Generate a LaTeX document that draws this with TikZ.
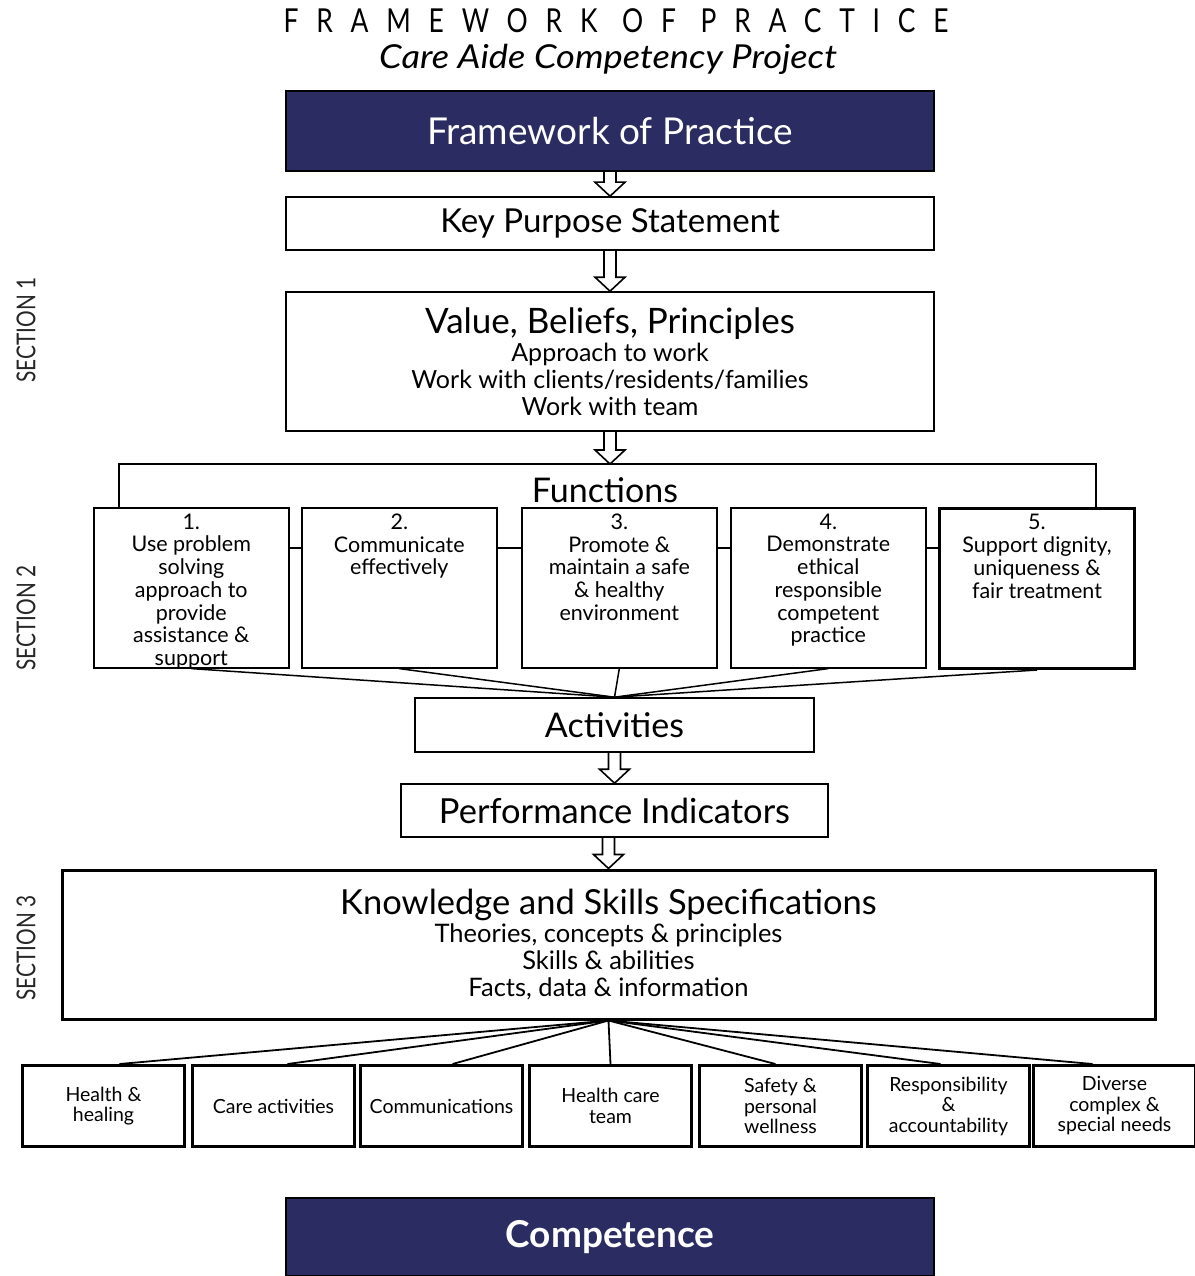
\documentclass[tikz,border=0pt]{standalone}
\usepackage{fontspec}
\setmainfont{Lato}
\newfontfamily\narrowfont[FakeStretch=0.8]{Lato}
\newfontfamily\widefont[FakeStretch=1.1]{Lato}
\definecolor{navy}{RGB}{43,45,98}
\newcommand{\fntext}[1]{\parbox[t][148pt][t]{190pt}{\centering #1}}
% hollow block arrow from the bottom of #1 down to the point #2
\newcommand{\flowarrow}[2]{%
  \draw[line width=1.6pt, line join=miter]
    ([xshift=-6pt]#2 |- #1.south) -- ([xshift=-6pt, yshift=14pt]#2) -- ([xshift=-15pt, yshift=14pt]#2)
    -- (#2) -- ([xshift=15pt, yshift=14pt]#2) -- ([xshift=6pt, yshift=14pt]#2) -- ([xshift=6pt]#2 |- #1.south);}
\tikzset{
  box/.style={draw, line width=1.6pt, inner sep=0pt, align=center},
  fnbox/.style={box, anchor=north west, minimum width=195pt, minimum height=160pt,
    font=\fontsize{21.5}{22.7}\selectfont},
  kbox/.style={box, line width=3pt, anchor=north west, minimum width=162pt,
    minimum height=81pt, font=\fontsize{19.5}{20.5}\selectfont},
  navybox/.style={box, fill=navy, text=white, minimum width=648pt, minimum height=80pt},
  seclabel/.style={rotate=90, font=\narrowfont\fontsize{26}{26}\selectfont, text=black!85}
}
\begin{document}
\begin{tikzpicture}[x=1pt, y=-1pt]
  \useasboundingbox (0,0) rectangle (1194,1276);
  % heading
  \node [inner sep=0pt] (title) at (616,21) {\narrowfont\fontsize{33}{33}\selectfont\addfontfeatures{LetterSpace=54}FRAMEWORK OF PRACTICE};
  \node [inner sep=0pt] (sub) at (608,59) {\widefont\itshape\fontsize{33}{33}\selectfont Care Aide Competency Project};
  \node (sec1) [seclabel] at (26,330) {SECTION 1};
  \node (sec2) [seclabel] at (26,618) {SECTION 2};
  \node (sec3) [seclabel] at (26,948) {SECTION 3};
  % section 1
  \node [navybox, font=\fontsize{37}{37}\selectfont] (fop) at (610,131) {Framework of Practice};
  \node [box, minimum width=648pt, minimum height=53pt, font=\fontsize{33}{33}\selectfont] (kps) at (610,223.5) {Key Purpose Statement};
  \node [box, minimum width=648pt, minimum height=139pt, font=\fontsize{25}{27}\selectfont] (vbp) at (610,361.5)
    {{\fontsize{35}{35}\selectfont Value, Beliefs, Principles}\\[1pt] Approach to work\\ Work with clients/residents/families\\ Work with team};
  \coordinate (bar) at (610,464);
  % section 2
  \node (func) at (605,490) {\fontsize{34}{34}\selectfont Functions};
  \node [fnbox] (fn1) at (93,507) {\fntext{1.\\Use problem\\solving\\approach to\\provide\\assistance \&\\support}};
  \node [fnbox] (fn2) at (301,507) {\fntext{2.\\Communicate\\effectively}};
  \node [fnbox] (fn3) at (521,507) {\fntext{3.\\Promote \&\\maintain a safe\\\& healthy\\environment}};
  \node [fnbox] (fn4) at (730,507) {\fntext{4.\\Demonstrate\\ethical\\responsible\\competent\\practice}};
  \node [fnbox, line width=3pt] (fn5) at (938,507) {\fntext{5.\\Support dignity,\\uniqueness \&\\fair treatment}};
  \node [box, minimum width=399pt, minimum height=54pt, font=\fontsize{34}{34}\selectfont] (act) at (614.5,725) {Activities};
  \node [box, minimum width=427pt, minimum height=53pt, font=\fontsize{34.5}{34.5}\selectfont] (pi) at (614.5,810.5) {Performance Indicators};
  % section 3
  \node [box, line width=3pt, minimum width=1093pt, minimum height=149pt, font=\fontsize{25.5}{27}\selectfont] (ks) at (608.5,944.5)
    {{\fontsize{34.5}{34.5}\selectfont Knowledge and Skills Specifications}\\[1pt] Theories, concepts \& principles\\ Skills \& abilities\\ Facts, data \& information};
  \node [kbox] (h1) at (21,1064) {Health \&\\healing};
  \node [kbox] (h2) at (191,1064) {Care activities};
  \node [kbox] (h3) at (359,1064) {Communications};
  \node [kbox] (h4) at (528,1064) {Health care\\team};
  \node [kbox] (h5) at (698,1064) {Safety \&\\personal\\wellness};
  \node [kbox] (h6) at (866,1064) {Responsibility\\\&\\accountability};
  \node [kbox] (h7) at (1032,1064) {Diverse\\complex \&\\special needs};
  \node [navybox, minimum height=78pt, font=\bfseries\fontsize{37}{37}\selectfont] (comp) at (610,1237) {Competence};
  % connectors
  \flowarrow{fop}{kps.north}
  \flowarrow{kps}{vbp.north}
  \flowarrow{vbp}{bar}
  \flowarrow{act}{pi.north}
  \flowarrow{pi}{ks.north}
  \draw[line width=1.5pt] ([xshift=26pt]fn1.north west) |- (bar) -| ([xshift=-40pt]fn5.north east);
  \foreach \from/\to in {fn1/fn2,fn2/fn3,fn3/fn4,fn4/fn5}
    \draw[line width=1.5pt] ([yshift=-41pt]\from.north east) -- ([yshift=-41pt]\to.north west);
  \foreach \from in {fn1,fn2,fn3,fn4,fn5}
    \draw[line width=1.5pt] (\from.south) -- (act.north);
  \foreach \to/\dx in {h1/16,h2/14,h3/11,h4/0,h5/-5,h6/-8,h7/-22}
    \draw[line width=1.8pt] (ks.south) -- ([xshift=\dx pt]\to.north);
\end{tikzpicture}
\end{document}
